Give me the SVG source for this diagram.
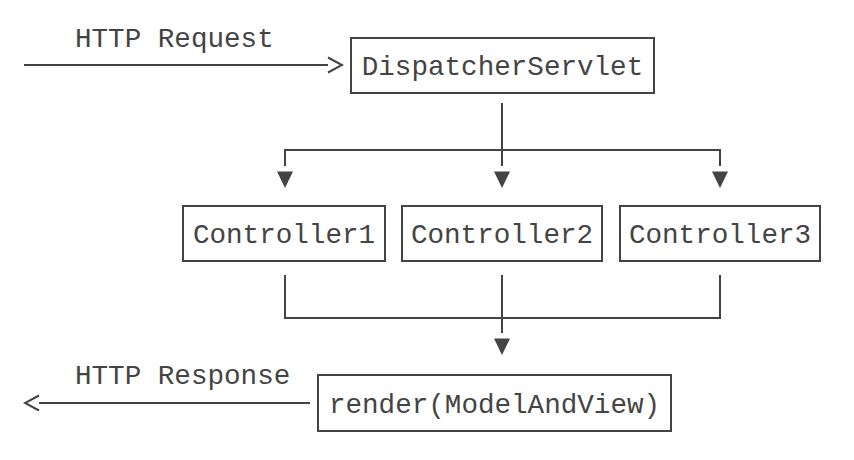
<svg xmlns="http://www.w3.org/2000/svg" width="854" height="460" viewBox="0 0 854 460">
  <style>
    .bg { fill: #ffffff; }
    .box { fill: #ffffff; stroke: #444444; stroke-width: 2; }
    .lbl { font-family: "Liberation Mono", "DejaVu Sans Mono", monospace; font-size: 27.6px; fill: #444444; }
    .mid { text-anchor: middle; }
    .wire { fill: none; stroke: #444444; stroke-width: 2; }
  </style>
  <defs>
    <marker id="tri" markerUnits="userSpaceOnUse" viewBox="0 -9 24 18" refX="0" refY="0" markerWidth="24" markerHeight="18" orient="auto">
      <path d="M5.5,-8 L22,0 L5.5,8 Z" fill="#444444"/>
    </marker>
    <marker id="chev" markerUnits="userSpaceOnUse" viewBox="-2 -10 18 20" refX="0" refY="0" markerWidth="18" markerHeight="20" orient="auto">
      <path d="M0,-7.5 L14,0 L0,7.5" fill="none" stroke="#444444" stroke-width="2"/>
    </marker>
  </defs>
  <rect class="bg" x="0" y="0" width="854" height="460"/>

  <g id="connectors">
    <path id="request" class="wire" d="M24,65 H328" marker-end="url(#chev)"/>
    <path class="wire" d="M502,103 V150"/>
    <path class="wire" d="M285,166 V150 H720 V166"/>
    <path class="wire" d="M285,150 V166" marker-end="url(#tri)"/>
    <path class="wire" d="M502,150 V166" marker-end="url(#tri)"/>
    <path class="wire" d="M720,150 V166" marker-end="url(#tri)"/>
    <path class="wire" d="M285,275 V318 H720 V275"/>
    <path class="wire" d="M502,275 V333" marker-end="url(#tri)"/>
    <path id="response" class="wire" d="M310,403 H39" marker-end="url(#chev)"/>
  </g>

  <g id="label-request">
    <text class="lbl" x="75" y="47">HTTP Request</text>
  </g>
  <g id="label-response">
    <text class="lbl" x="75" y="384">HTTP Response</text>
  </g>

  <g id="dispatcher">
    <rect class="box" x="351" y="38" width="303" height="55"/>
    <text class="lbl mid" x="502.5" y="75">DispatcherServlet</text>
  </g>
  <g id="controller1">
    <rect class="box" x="183" y="206" width="202" height="55"/>
    <text class="lbl mid" x="284" y="243">Controller1</text>
  </g>
  <g id="controller2">
    <rect class="box" x="402" y="206" width="200" height="55"/>
    <text class="lbl mid" x="502" y="243">Controller2</text>
  </g>
  <g id="controller3">
    <rect class="box" x="620" y="206" width="200" height="55"/>
    <text class="lbl mid" x="720" y="243">Controller3</text>
  </g>
  <g id="render">
    <rect class="box" x="318" y="375" width="353" height="56"/>
    <text class="lbl mid" x="494.5" y="413">render(ModelAndView)</text>
  </g>
</svg>
